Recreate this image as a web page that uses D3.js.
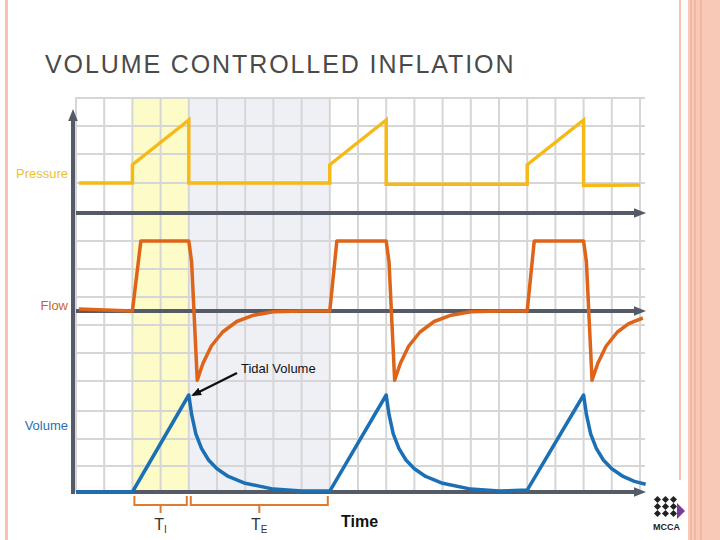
<!DOCTYPE html>
<html><head><meta charset="utf-8">
<script src="https://cdn.jsdelivr.net/npm/d3@7"></script>
<style>body{margin:0;background:#fff}svg{display:block;font-family:Arial,"Liberation Sans",sans-serif}</style>
</head><body><svg id="c" width="720" height="540"></svg>
<script>
// time in grid units; x range 0..20
const pressureData = [[0.1,0],[2,0],[2,0.29],[4,1],[4,0],[9,0],[9,0.29],[11,1],[11,-0.02],[16,-0.02],[16,0.29],[18,1],[18,-0.04],[20,-0.03]];
const flowData = [[0.1,0.03],[2,0],[2.3,1],[4,1],[4.1,0.7],[4.3,-0.99],[4.5,-0.75],[4.8,-0.5],[5.2,-0.3],[5.7,-0.15],[6.3,-0.06],[7,-0.01],[8,0],[9,0],
  [9.25,1],[11,1],[11.1,0.7],[11.3,-0.99],[11.5,-0.75],[11.8,-0.5],[12.2,-0.3],[12.7,-0.15],[13.3,-0.06],[14,-0.01],[15,0],[16,0],
  [16.25,1],[18,1],[18.1,0.7],[18.3,-0.99],[18.5,-0.75],[18.8,-0.5],[19.2,-0.3],[19.6,-0.18],[20.1,-0.1]];
const volumeData = [[0,0],[2,0],[4,1],[4.1,0.8],[4.25,0.6],[4.45,0.45],[4.7,0.33],[5,0.24],[5.4,0.16],[6,0.09],[7,0.03],[8,0.01],[9,0.01],
  [11,1],[11.1,0.8],[11.25,0.6],[11.45,0.45],[11.7,0.33],[12,0.24],[12.4,0.16],[13,0.09],[14,0.03],[15,0.01],[16,0.02],
  [18,1],[18.1,0.8],[18.25,0.6],[18.45,0.45],[18.7,0.33],[19,0.24],[19.4,0.16],[19.8,0.11],[20.2,0.08]];
const seriesLabels = ["Pressure","Flow","Volume"];
const hGrid = [98,126,154,183,213,241,269,297,325,353,381,411,439,466];

const svg = d3.select("#c");
const x = d3.scaleLinear().domain([0,20]).range([76,640]);
const yP = d3.scaleLinear().domain([0,1]).range([183,120]);
const yF = d3.scaleLinear().domain([0,1]).range([311,241]);
const yV = d3.scaleLinear().domain([0,1]).range([492,395]);

// borders
svg.append("rect").attr("x",5).attr("y",0).attr("width",3).attr("height",540).attr("fill","#f6c3b2");
svg.append("rect").attr("x",688).attr("y",0).attr("width",32).attr("height",540).attr("fill","#f8c9b6");
[691,695,701].forEach(v=>svg.append("line").attr("x1",v).attr("x2",v).attr("y1",0).attr("y2",540).attr("stroke","#eca58c").attr("stroke-width",1));
svg.append("rect").attr("x",679).attr("y",0).attr("width",2).attr("height",480).attr("fill","#f6c3b2");

svg.append("text").attr("x",45).attr("y",73).attr("font-size",25).attr("letter-spacing",1.9).attr("fill","#4a4a4a").text("VOLUME CONTROLLED INFLATION");

// bands
svg.append("rect").attr("x",x(2)).attr("y",97).attr("width",x(4)-x(2)).attr("height",395).attr("fill","#fdfbc8");
svg.append("rect").attr("x",x(4)).attr("y",97).attr("width",x(9)-x(4)).attr("height",395).attr("fill","#eef0f6");

// grid
const g = svg.append("g").attr("stroke","#d6d6d6").attr("stroke-width",2);
d3.range(0,21).forEach(i=>g.append("line").attr("x1",x(i)).attr("x2",x(i)).attr("y1",97).attr("y2",492));
hGrid.forEach(v=>g.append("line").attr("x1",76).attr("x2",645).attr("y1",v).attr("y2",v));

// axes
const ax="#555b66";
svg.append("defs").append("marker").attr("id","ar").attr("viewBox","0 0 10 10").attr("refX",5).attr("refY",5)
 .attr("markerWidth",3).attr("markerHeight",3).attr("orient","auto").append("path").attr("d","M0,1L10,5L0,9Z").attr("fill",ax);
svg.append("line").attr("x1",73).attr("x2",73).attr("y1",494).attr("y2",115).attr("stroke",ax).attr("stroke-width",4).attr("marker-end","url(#ar)");
[213,311,492].forEach(v=>svg.append("line").attr("x1",76).attr("x2",640).attr("y1",v).attr("y2",v).attr("stroke",ax).attr("stroke-width",4).attr("marker-end","url(#ar)"));

const line=(ys)=>d3.line().x(d=>x(d[0])).y(d=>ys(d[1]));
svg.append("path").attr("d",line(yP)(pressureData)).attr("fill","none").attr("stroke","#f5b918").attr("stroke-width",3.5);
svg.append("path").attr("d",line(yF)(flowData)).attr("fill","none").attr("stroke","#dd6418").attr("stroke-width",3.5).attr("stroke-linejoin","round");
svg.append("path").attr("d",line(yV)(volumeData)).attr("fill","none").attr("stroke","#1b6fb5").attr("stroke-width",3.5).attr("stroke-linejoin","round");

const lc=["#f0c030","#c8661e","#2a6fb0"], ly=[178,310,430];
seriesLabels.forEach((s,i)=>svg.append("text").attr("x",68).attr("y",ly[i]).attr("text-anchor","end").attr("font-size",13).attr("fill",lc[i]).text(s));

// annotation
svg.append("defs").append("marker").attr("id","ab").attr("viewBox","0 0 10 10").attr("refX",8).attr("refY",5)
 .attr("markerWidth",4).attr("markerHeight",4).attr("orient","auto").append("path").attr("d","M0,1L10,5L0,9Z").attr("fill","#111");
svg.append("line").attr("x1",237).attr("y1",373).attr("x2",193).attr("y2",395).attr("stroke","#111").attr("stroke-width",2.5).attr("marker-end","url(#ab)");
svg.append("text").attr("x",241).attr("y",373).attr("font-size",13).attr("fill","#111").text("Tidal Volume");

// braces
function brace(a,b){const y0=496,y1=505,m=(a+b)/2;
 svg.append("path").attr("d",`M${a},${y0}L${a},${y1}L${b},${y1}L${b},${y0}M${m},${y1}L${m},${y1+8}`).attr("fill","none").attr("stroke","#e07a30").attr("stroke-width",2);}
brace(x(2)+2,x(4)-2); brace(x(4)+2,x(9)-2);
const sub=(xx,main,s)=>{const t=svg.append("text").attr("x",xx).attr("y",530).attr("font-size",16).attr("fill","#333").attr("text-anchor","middle");
 t.append("tspan").text(main); t.append("tspan").attr("font-size",10).attr("dy",3).text(s);};
sub(x(3),"T","I"); sub(x(6.5),"T","E");
svg.append("text").attr("x",341).attr("y",527).attr("font-size",16).attr("font-weight","bold").attr("fill","#111").text("Time");

// logo
const lg=svg.append("g").attr("transform","translate(655,497)");
[[0,0],[8,0],[16,0],[0,7],[8,7],[16,7],[0,14],[8,14],[16,14]].forEach(p=>lg.append("rect").attr("x",p[0]).attr("y",p[1]).attr("width",5).attr("height",5).attr("transform",`rotate(45 ${p[0]+2.5} ${p[1]+2.5})`).attr("fill","#222"));
lg.append("path").attr("d","M22,6L30,14L22,22Z").attr("fill","#7a3a9a");
lg.append("text").attr("x",-2).attr("y",33).attr("font-size",9).attr("font-weight","bold").attr("fill","#222").text("MCCA");
</script></body></html>
